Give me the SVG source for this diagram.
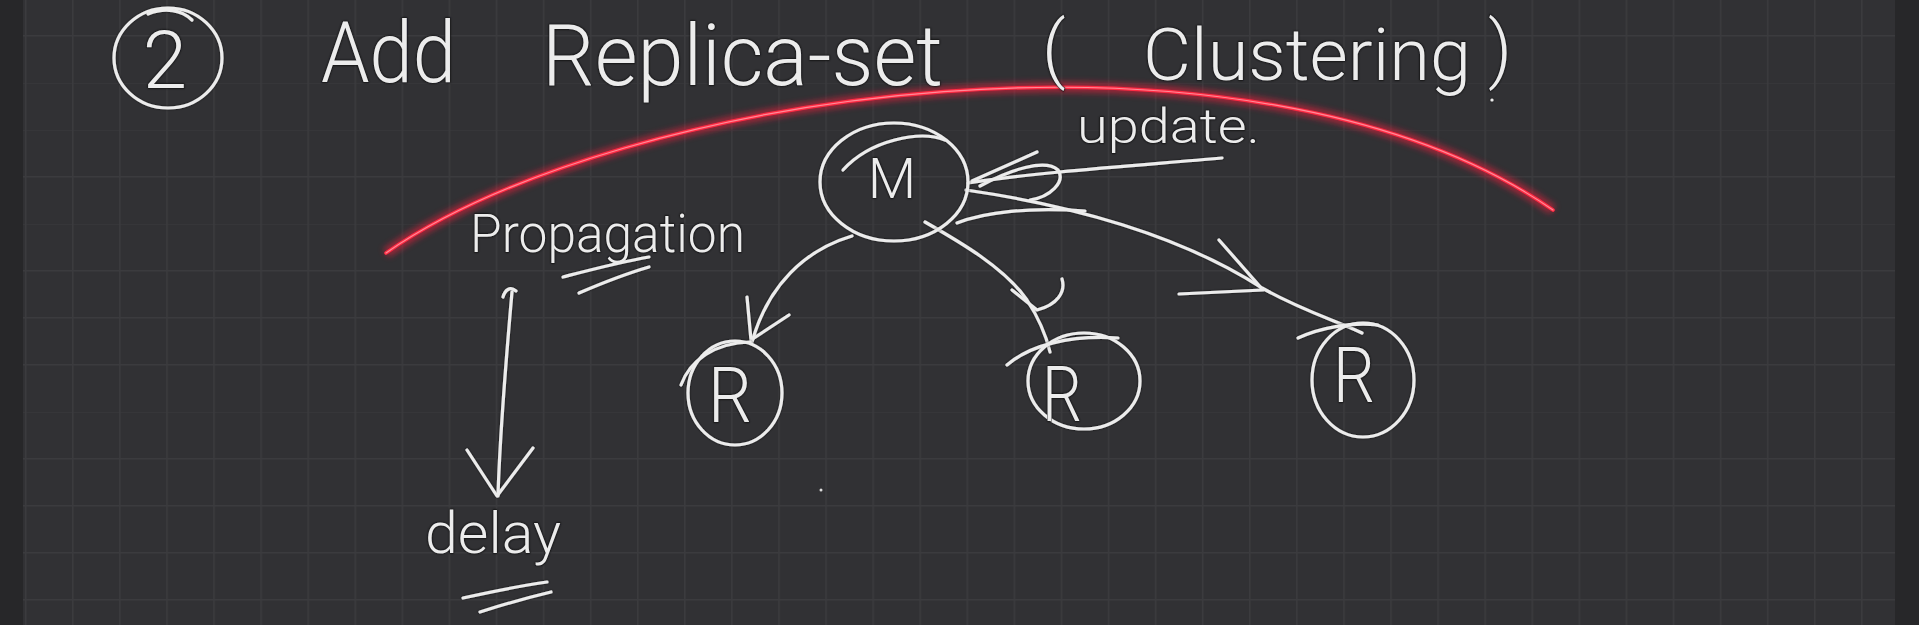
<svg xmlns="http://www.w3.org/2000/svg" width="1919" height="625" viewBox="0 0 1919 625">
<style>
.ink{fill:none;stroke:#ececec;stroke-width:3.2;stroke-linecap:round;stroke-linejoin:round}
.txt{fill:#ececec;font-family:Roboto,"Liberation Sans",sans-serif;font-weight:300;stroke:#1c1c1e;stroke-width:1;paint-order:stroke}
</style>
<defs>
<pattern id="grid" x="72" y="35" width="47.08" height="47" patternUnits="userSpaceOnUse">
<path d="M0.75,0 V47 M0,0.75 H47.08" stroke="#3b3b3e" stroke-width="1.5" fill="none"/>
</pattern>
<filter id="glow" x="-10%" y="-50%" width="120%" height="200%">
<feGaussianBlur stdDeviation="3"/>
</filter>
<filter id="shadow" x="-5%" y="-5%" width="110%" height="110%">
<feDropShadow dx="0" dy="0" stdDeviation="1" flood-color="#000" flood-opacity="0.7"/>
</filter>
</defs>
<rect width="1919" height="625" fill="#272729"/>
<rect x="23" y="0" width="1872" height="625" fill="#313134"/>
<rect x="23" y="0" width="1872" height="625" fill="url(#grid)"/>

<g id="red-arc">
<path d="M386,253 C620,90 1250,0 1553,210" fill="none" stroke="#ff1f3d" stroke-width="10" opacity="0.55" filter="url(#glow)"/>
<path d="M386,253 C620,90 1250,0 1553,210" fill="none" stroke="#ff2b43" stroke-width="3.6" stroke-linecap="round"/>
<path d="M386,253 C620,90 1250,0 1553,210" fill="none" stroke="#ff8a98" stroke-width="1.2" stroke-linecap="round"/>
</g>

<g id="title" filter="url(#shadow)">
<g id="step-number">
<ellipse cx="168" cy="58" rx="54" ry="50" class="ink"/>
<path d="M148,14 C165,7 182,10 192,20" class="ink"/>
<text x="165" y="88" class="txt" font-size="80" text-anchor="middle">2</text>
</g>
<text x="321" y="82" class="txt" font-size="86" textLength="135" lengthAdjust="spacingAndGlyphs">Add</text>
<text x="542" y="85" class="txt" font-size="86" textLength="401" lengthAdjust="spacingAndGlyphs">Replica-set</text>
<text x="1042" y="74" class="txt" font-size="74">(</text>
<text x="1143" y="80" class="txt" font-size="72" textLength="328" lengthAdjust="spacingAndGlyphs">Clustering</text>
<text x="1488" y="74" class="txt" font-size="74">)</text>
<circle cx="1492" cy="100" r="1.6" fill="#ececec"/>
</g>

<g id="connectors" filter="url(#shadow)">
<!-- update -> M -->
<path d="M1222,158 C1130,166 1040,172 968,183" class="ink"/>
<path d="M1037,152 L972,181" class="ink"/>
<path d="M980,186 C1010,170 1045,158 1058,170 C1066,182 1050,197 1030,200" class="ink"/>
<!-- M -> R1 -->
<path d="M852,236 C805,250 768,285 752,342" class="ink"/>
<path d="M747,297 L751,340 L789,315" class="ink"/>
<!-- M -> R2 -->
<path d="M925,222 C960,242 1005,268 1027,300 C1040,320 1046,335 1050,352" class="ink"/>
<path d="M1012,290 L1037,310 C1057,305 1066,292 1062,279" class="ink"/>
<!-- M -> R3 -->
<path d="M966,190 C1070,205 1180,235 1262,288 C1305,312 1340,322 1362,333" class="ink"/>
<path d="M957,223 C985,212 1030,207 1085,211" class="ink"/>
<path d="M1219,240 L1263,290 L1179,294" class="ink"/>
<!-- propagation delay arrow -->
<path d="M503,297 C505,290 510,286 516,291 M512,292 C506,360 500,430 498,496" class="ink"/>
<path d="M467,450 L497,496 L533,448" class="ink"/>
</g>

<g id="node-M" filter="url(#shadow)">
<ellipse cx="894" cy="182" rx="74" ry="59" class="ink"/>
<path d="M843,170 C870,140 920,130 945,140" class="ink"/>
<text x="892" y="198" class="txt" font-size="56" text-anchor="middle">M</text>
</g>

<g id="node-R1" filter="url(#shadow)">
<ellipse cx="735" cy="393" rx="47" ry="52" class="ink"/>
<path d="M681,385 C690,360 715,343 750,342" class="ink"/>
<text x="730" y="422" class="txt" font-size="78" text-anchor="middle" textLength="44" lengthAdjust="spacingAndGlyphs">R</text>
</g>

<g id="node-R2" filter="url(#shadow)">
<ellipse cx="1084" cy="381" rx="56" ry="48" class="ink"/>
<path d="M1007,365 C1030,345 1070,335 1118,338" class="ink"/>
<text x="1062" y="421" class="txt" font-size="78" text-anchor="middle" textLength="40" lengthAdjust="spacingAndGlyphs">R</text>
</g>

<g id="node-R3" filter="url(#shadow)">
<ellipse cx="1363" cy="380" rx="51" ry="57" class="ink"/>
<path d="M1298,338 C1320,328 1350,322 1378,325" class="ink"/>
<text x="1354" y="402" class="txt" font-size="78" text-anchor="middle" textLength="42" lengthAdjust="spacingAndGlyphs">R</text>
</g>

<g id="label-update" filter="url(#shadow)">
<text x="1077" y="143" class="txt" font-size="48" textLength="183" lengthAdjust="spacingAndGlyphs">update.</text>
</g>

<g id="label-propagation" filter="url(#shadow)">
<text x="470" y="252" class="txt" font-size="54" textLength="275" lengthAdjust="spacingAndGlyphs">Propagation</text>
<path d="M563,277 C590,270 620,262 649,257" class="ink"/>
<path d="M579,293 C600,284 625,274 649,267" class="ink"/>
</g>

<g id="label-delay" filter="url(#shadow)">
<text x="425" y="553" class="txt" font-size="58" textLength="136" lengthAdjust="spacingAndGlyphs">delay</text>
<path d="M463,598 C490,592 520,586 547,582" class="ink"/>
<path d="M480,612 C505,604 530,597 551,592" class="ink"/>
</g>

<circle cx="821" cy="490" r="1.5" fill="#dcdcdc"/>
</svg>
